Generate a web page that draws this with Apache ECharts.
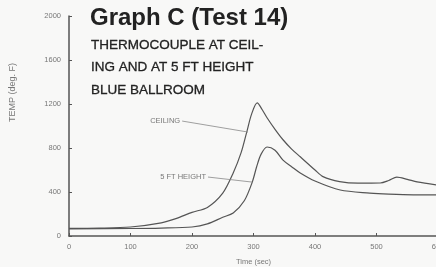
<!DOCTYPE html>
<html>
<head>
<meta charset="utf-8">
<script src="https://cdn.jsdelivr.net/npm/echarts@6/dist/echarts.min.js"></script>
<style>
  html, body { margin: 0; padding: 0; background: #f8f8f7; }
  #chart { width: 436px; height: 267px; }
</style>
</head>
<body>
<div id="chart"></div>
<script>
// time (sec), temperature (deg F)
const ceilingT = [0, 50, 100, 150, 175, 200, 225, 250, 267, 280, 289, 297, 306, 314, 322, 335, 348, 362, 376, 400, 413, 440, 470, 506, 520, 533, 550, 566, 600];
const ceilingV = [70, 72, 82, 120, 160, 215, 260, 390, 573, 760, 945, 1110, 1210, 1150, 1075, 970, 875, 790, 720, 600, 540, 495, 480, 482, 505, 535, 515, 492, 462];

const heightT = [0, 100, 150, 200, 225, 250, 267, 285, 298, 305, 312, 322, 335, 348, 362, 376, 400, 441, 489, 520, 560, 600];
const heightV = [65, 68, 72, 82, 110, 170, 209, 320, 490, 627, 740, 809, 780, 690, 630, 573, 500, 418, 390, 380, 374, 374];

// label text, leader start, leader end (data coords)
const notes = [
  { text: 'CEILING', from: [184, 1045], to: [291, 945] },
  { text: '5 FT HEIGHT', from: [226, 536], to: [298, 490] }
];

const pair = (ts, vs) => ts.map((t, i) => [t, vs[i]]);

const chart = echarts.init(document.getElementById('chart'));

const lineColor = '#555';
const textColor = '#777';
const font = 'Liberation Sans';

const noteLine = (n) => ({
  symbol: 'none',
  silent: true,
  lineStyle: { color: '#888', width: 0.8, type: 'solid' },
  label: {
    show: true,
    position: 'start',
    formatter: n.text,
    fontSize: 7.5,
    fontFamily: font,
    color: textColor,
    distance: 2
  },
  data: [[{ coord: n.from }, { coord: n.to }]]
});

chart.setOption({
  backgroundColor: '#f8f8f7',
  animation: false,
  title: [{
    text: 'Graph C (Test 14)',
    left: 85,
    top: 1,
    textStyle: {
      fontFamily: font,
      fontSize: 24,
      fontWeight: 'bold',
      color: '#222'
    }
  }, {
    text: 'THERMOCOUPLE AT CEIL-\nING AND AT 5 FT HEIGHT\nBLUE BALLROOM',
    left: 86,
    top: 29,
    textStyle: {
      fontFamily: font,
      fontSize: 13.5,
      fontWeight: 500,
      lineHeight: 22.5,
      color: '#222',
      textBorderColor: '#222',
      textBorderWidth: 0.3
    }
  }],
  grid: { left: 69, right: -2, top: 16, bottom: 31, outerBoundsMode: 'none', containLabel: false },
  xAxis: {
    type: 'value',
    min: 0,
    max: 600,
    interval: 100,
    name: 'Time (sec)',
    nameLocation: 'middle',
    nameGap: 22,
    nameTextStyle: { fontSize: 7.5, color: textColor, fontFamily: font },
    axisLine: { lineStyle: { color: lineColor, width: 1.5 } },
    axisTick: { inside: true, length: 3, lineStyle: { color: lineColor } },
    axisLabel: { fontSize: 7.5, color: textColor, margin: 7, fontFamily: font },
    splitLine: { show: false }
  },
  yAxis: {
    type: 'value',
    min: 0,
    max: 2000,
    interval: 400,
    axisLine: { show: true, lineStyle: { color: lineColor, width: 1.5 } },
    axisTick: { show: true, inside: true, length: 3, lineStyle: { color: lineColor } },
    axisLabel: { fontSize: 7.5, color: textColor, margin: 8, fontFamily: font, formatter: (v) => String(v) },
    splitLine: { show: false }
  },
  graphic: [{
    type: 'text',
    left: 8,
    top: 63,
    rotation: Math.PI / 2,
    style: { text: 'TEMP (deg. F)', fontSize: 9, fill: textColor, fontFamily: font }
  }],
  series: [
    {
      name: 'Ceiling',
      type: 'line',
      data: pair(ceilingT, ceilingV),
      smooth: 0.3,
      showSymbol: false,
      lineStyle: { color: lineColor, width: 1.2 },
      markLine: noteLine(notes[0])
    },
    {
      name: '5 ft height',
      type: 'line',
      data: pair(heightT, heightV),
      smooth: 0.3,
      showSymbol: false,
      lineStyle: { color: lineColor, width: 1.2 },
      markLine: noteLine(notes[1])
    }
  ]
});
</script>
</body>
</html>
